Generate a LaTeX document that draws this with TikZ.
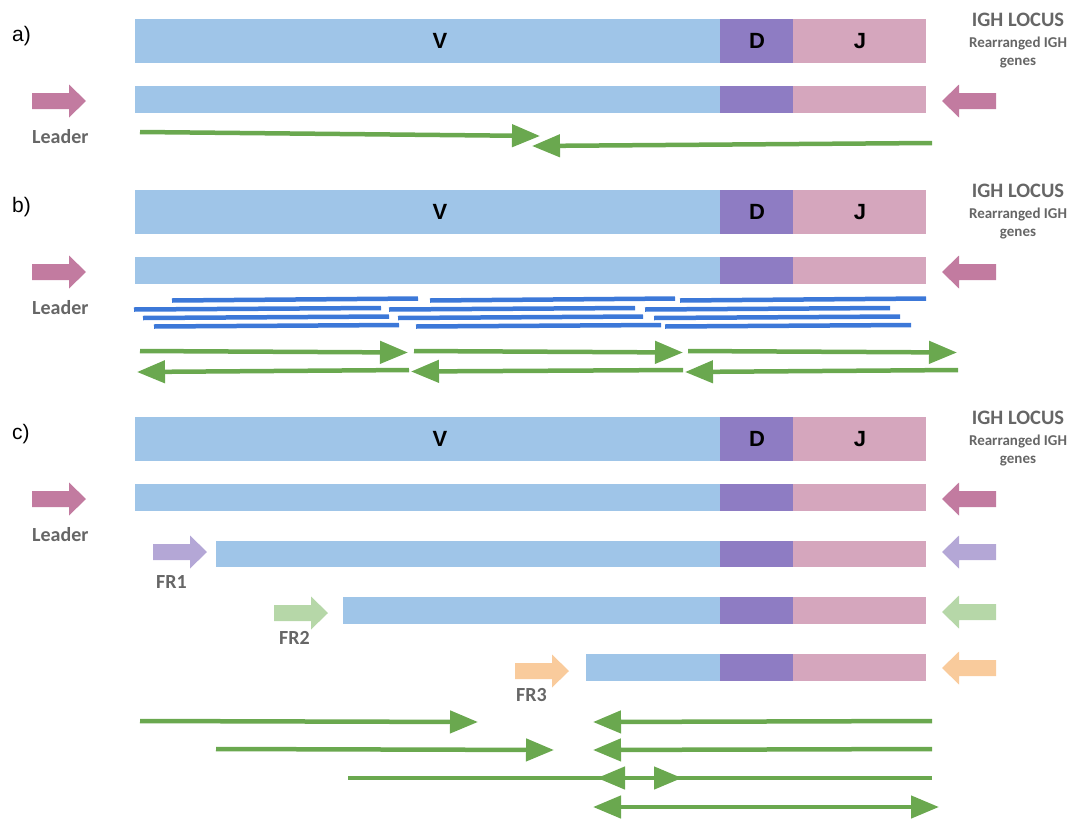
\documentclass[tikz,border=0pt]{standalone}
\usepackage{fontspec}
\usetikzlibrary{arrows.meta}
\newfontfamily\arialfont{Liberation Sans}
\newfontfamily\calfont{Carlito}

\definecolor{vblue}{HTML}{9FC5E8}
\definecolor{dpurple}{HTML}{8E7CC3}
\definecolor{jpink}{HTML}{D5A6BD}
\definecolor{leaderpink}{HTML}{C27BA0}
\definecolor{frone}{HTML}{B4A7D6}
\definecolor{frtwo}{HTML}{B6D7A8}
\definecolor{frthree}{HTML}{F9CB9C}
\definecolor{readblue}{HTML}{3C78D8}
\definecolor{primergreen}{HTML}{6AA84F}
\definecolor{labelgray}{HTML}{666666}

% block arrows: tail x (right-pointing) or tip x (left-pointing), centre y
\newcommand\rightblock[3]{\fill[#1] (#2,#3-8) -- (#2+37,#3-8) -- (#2+37,#3-16.5) -- (#2+54,#3) -- (#2+37,#3+16.5) -- (#2+37,#3+8) -- (#2,#3+8) -- cycle;}
\newcommand\leftblock[3]{\fill[#1] (#2+54,#3-8) -- (#2+17,#3-8) -- (#2+17,#3-16.5) -- (#2,#3) -- (#2+17,#3+16.5) -- (#2+17,#3+8) -- (#2+54,#3+8) -- cycle;}
% a rearranged gene bar: left x, top y, bottom y
\newcommand\genebar[3]{%
  \fill[vblue] (#1,#2) rectangle (720,#3);
  \fill[dpurple] (720,#2) rectangle (793,#3);
  \fill[jpink] (793,#2) rectangle (926,#3);}

\tikzset{
  seclabel/.style={anchor=base west, inner sep=0pt, font=\arialfont\fontsize{21}{23}\selectfont},
  seglabel/.style={anchor=base, inner sep=0pt, font=\arialfont\bfseries\fontsize{22}{24}\selectfont},
  graylabel/.style={anchor=base west, inner sep=0pt, text=labelgray, font=\calfont\bfseries\fontsize{20}{22}\selectfont},
  locuslabel/.style={anchor=base, inner sep=0pt, text=labelgray, font=\calfont\bfseries\fontsize{20.5}{22}\selectfont},
  sublabel/.style={anchor=base, inner sep=0pt, text=labelgray, font=\calfont\bfseries\fontsize{15}{17}\selectfont},
  primer/.style={draw=primergreen, line width=4.5pt, -{Triangle[length=28pt,width=22pt]}},
  twoway/.style={draw=primergreen, line width=4.5pt, {Triangle[length=28pt,width=22pt]}-{Triangle[length=28pt,width=22pt]}},
  readline/.style={draw=readblue, line width=4.5pt},
}

\begin{document}
\begin{tikzpicture}[x=1pt,y=-1pt]
\useasboundingbox (0,0) rectangle (1075,819);

% the common locus header of each panel
\foreach \s/\dy in {a/0,b/171,c/398}{
  \begin{scope}[shift={(0,\dy)}]
    \node[seclabel] (lab-\s) at (12,41) {\s)};
    \fill[vblue] (135,19) rectangle (720,63);
    \fill[dpurple] (720,19) rectangle (793,63);
    \fill[jpink] (793,19) rectangle (926,63);
    \node[seglabel] (v-\s) at (440,48.5) {V};
    \node[seglabel] (d-\s) at (757,48.5) {D};
    \node[seglabel] (j-\s) at (860,48.5) {J};
    \node[locuslabel] (igh-\s) at (1018,26) {IGH LOCUS};
    \node[sublabel] (rear-\s) at (1018,47) {Rearranged IGH};
    \node[sublabel] (genes-\s) at (1018,65) {genes};
    \genebar{135}{86}{113}
    \rightblock{leaderpink}{32}{101}
    \leftblock{leaderpink}{942}{101}
    \node[graylabel] (leader-\s) at (32,143) {Leader};
  \end{scope}
}

% panel a: leader primer pair
\draw[primer] (140,132) coordinate (a-f1) -- (540,136) coordinate (a-f1t);
\draw[primer] (932,143) coordinate (a-r1) -- (532,146) coordinate (a-r1t);

% panel b: overlapping sequencing reads
\draw[readline] (172,300.5) -- (418,298.5);
\draw[readline] (430,300.5) -- (675,298.5);
\draw[readline] (680,300.5) -- (926,298.5);
\draw[readline] (134,309.5) -- (381,308);
\draw[readline] (389,309.5) -- (635,308);
\draw[readline] (645,309.5) -- (890,308);
\draw[readline] (143,318) -- (389,316.5);
\draw[readline] (398,318) -- (643,316.5);
\draw[readline] (654,318) -- (900,316.5);
\draw[readline] (154,326.5) -- (399,325);
\draw[readline] (416,326.5) -- (661,325);
\draw[readline] (665,326.5) -- (911,325);

% panel b: tiled primer pairs
\draw[primer] (140,351) coordinate (b-f1) -- (408,352.5) coordinate (b-f1t);
\draw[primer] (414,351) coordinate (b-f2) -- (683,352.5) coordinate (b-f2t);
\draw[primer] (688,351) coordinate (b-f3) -- (957,352.5) coordinate (b-f3t);
\draw[primer] (409,370) coordinate (b-r1) -- (137,372) coordinate (b-r1t);
\draw[primer] (683,370) coordinate (b-r2) -- (411,371.5) coordinate (b-r2t);
\draw[primer] (958,370) coordinate (b-r3) -- (685,372) coordinate (b-r3t);

% panel c: framework primer products
\genebar{216}{541}{567}
\genebar{343}{597}{624}
\genebar{586}{654}{681}
\rightblock{frone}{153}{552}
\rightblock{frtwo}{274}{613}
\rightblock{frthree}{515}{671}
\leftblock{frone}{942}{552}
\leftblock{frtwo}{942}{612}
\leftblock{frthree}{942}{668}
\node[graylabel] (fr1) at (156,588) {FR1};
\node[graylabel] (fr2) at (279,644) {FR2};
\node[graylabel] (fr3) at (516,701) {FR3};

% panel c: primer pairs
\draw[primer] (140,721) coordinate (c-f1) -- (478,722) coordinate (c-f1t);
\draw[primer] (932,721) coordinate (c-r1) -- (593,722) coordinate (c-r1t);
\draw[primer] (216,749) coordinate (c-f2) -- (554,750) coordinate (c-f2t);
\draw[primer] (932,749) coordinate (c-r2) -- (593,750) coordinate (c-r2t);
\draw[primer] (348,778) coordinate (c-f3) -- (682,778) coordinate (c-f3t);
\draw[primer] (932,778) coordinate (c-r3) -- (597,778) coordinate (c-r3t);
\draw[twoway] (593,807) coordinate (c-b1) -- (939,807) coordinate (c-b2);
\end{tikzpicture}
\end{document}
